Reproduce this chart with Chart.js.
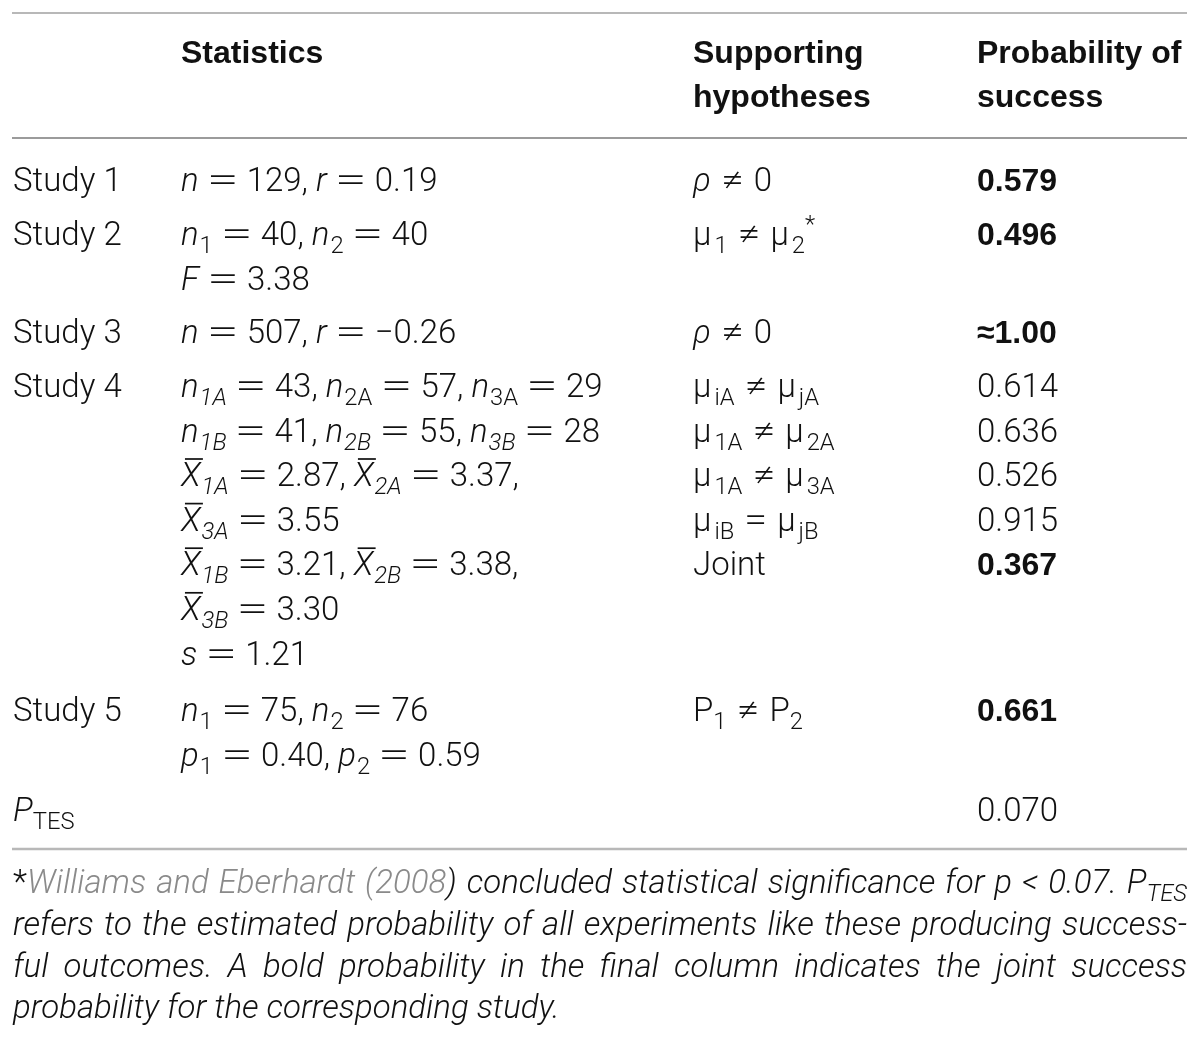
<!DOCTYPE html>
<html>
<head>
<meta charset="utf-8">
<script src="https://cdn.jsdelivr.net/npm/chart.js@4.4.1/dist/chart.umd.min.js"></script>
<style>
  html, body { margin: 0; padding: 0; background: #fff; }
  #table-chart { display: block; }
</style>
</head>
<body>
<canvas id="table-chart" width="1200" height="1040"></canvas>
<script>
// Isi tabel. Markup kecil: /.../ miring, _{..} subskrip, ^{..} superskrip, ~{..} garis atas, %..% abu-abu
const headers = [["Statistics"], ["Supporting", "hypotheses"], ["Probability of", "success"]];

const studies = ["Study 1", "Study 2", "Study 3", "Study 4", "Study 5", "/P/_{TES}"];

const statistics = [
  ["/n/ = 129, /r/ = 0.19"],
  ["/n/_{1} = 40, /n/_{2} = 40", "/F/ = 3.38"],
  ["/n/ = 507, /r/ = \u22120.26"],
  [
    "/n/_{/1A/} = 43, /n/_{2A} = 57, /n/_{3A} = 29",
    "/n/_{/1B/} = 41, /n/_{/2B/} = 55, /n/_{/3B/} = 28",
    "~{/X/}_{/1A/} = 2.87, ~{/X/}_{/2A/} = 3.37,",
    "~{/X/}_{/3A/} = 3.55",
    "~{/X/}_{/1B/} = 3.21, ~{/X/}_{/2B/} = 3.38,",
    "~{/X/}_{/3B/} = 3.30",
    "/s/ = 1.21",
  ],
  ["/n/_{1} = 75, /n/_{2} = 76", "/p/_{1} = 0.40, /p/_{2} = 0.59"],
  [],
];

const hypotheses = [
  ["/\u03c1/ \u2260 0"],
  ["\u03bc_{1} \u2260 \u03bc_{2}^{*}"],
  ["/\u03c1/ \u2260 0"],
  ["\u03bc_{iA} \u2260 \u03bc_{jA}", "\u03bc_{1A} \u2260 \u03bc_{2A}", "\u03bc_{1A} \u2260 \u03bc_{3A}", "\u03bc_{iB} = \u03bc_{jB}", "Joint"],
  ["P_{1} \u2260 P_{2}"],
  [],
];

const probabilities = [
  ["0.579"],
  ["0.496"],
  ["\u22481.00"],
  ["0.614", "0.636", "0.526", "0.915", "0.367"],
  ["0.661"],
  ["0.070"],
];

const boldProbability = [
  [true],
  [true],
  [true],
  [false, false, false, false, true],
  [true],
  [false],
];

const footnote = [
  "/*/%Williams and Eberhardt (2008%) concluded statistical significance for p < 0.07. P_{TES}",
  "refers to the estimated probability of all experiments like these producing success-",
  "ful outcomes. A bold probability in the final column indicates the joint success",
  "probability for the corresponding study.",
];

// Tata letak (posisi dalam satuan skala, bukan data)
const FONT = "Roboto, 'Liberation Sans', sans-serif";
const BOLD_FONT = "'Liberation Sans', Arial, sans-serif";
const colX = [13, 181, 693, 977];
const headerX = [181, 693, 977];
const headerBase = [63, 107];
const rowBase = [191, 245, 343, 397, 721, 821];
const lineStep = 44.6;
const footBase = [893, 935, 977, 1018];
const rules = [
  { y: 13, color: "#b8b8b8", width: 2 },
  { y: 138, color: "#7a7a7a", width: 1.5 },
  { y: 849, color: "#b8b8b8", width: 2.5 },
];
const BODY = 33;
const statStyle = { size: BODY, eqScale: 1.75, subGap: 1 };
const hypoStyle = { size: BODY, eqScale: 1.25, muGap: 3, spaceAdd: 2 };

// Function untuk memecah markup menjadi potongan teks
function parseRich(src, italicBase) {
  const runs = [];
  const mode = [];
  let italic = !!italicBase;
  let gray = false;
  let buf = "";
  const flush = () => {
    if (buf) {
      runs.push({
        text: buf, italic, gray,
        sub: mode.includes("sub"), sup: mode.includes("sup"), over: mode.includes("over"),
      });
      buf = "";
    }
  };
  for (let i = 0; i < src.length; i++) {
    const c = src[i];
    if (c === "/") { flush(); italic = !italic; continue; }
    if (c === "%") { flush(); gray = !gray; continue; }
    if ((c === "_" || c === "^" || c === "~") && src[i + 1] === "{") {
      flush();
      mode.push(c === "_" ? "sub" : c === "^" ? "sup" : "over");
      i++;
      continue;
    }
    if (c === "}" && mode.length) { flush(); mode.pop(); continue; }
    buf += c;
  }
  flush();
  return runs;
}

function runFont(run, opt) {
  const size = opt.size;
  const fs = run.sub || run.sup ? size * 0.72 : size;
  if (opt.bold) return "bold " + (size - 1) + "px " + BOLD_FONT;
  return (run.italic ? "italic " : "") + "300 " + fs + "px " + FONT;
}

// Function untuk menggambar satu baris teks kaya
function drawRich(ctx, src, x, y, opt) {
  const size = opt.size;
  const eqScale = opt.eqScale || 1;
  const runs = parseRich(src, opt.italic);
  const pieces = [];
  let natural = 0;
  let gaps = 0;
  let prevSmall = false;
  let prevText = "";
  runs.forEach((run) => {
    ctx.font = runFont(run, opt);
    const small = run.sub || run.sup;
    let lead = 0;
    if (small && !prevSmall) {
      lead = opt.subGap || 0;
      if (prevText.endsWith("\u03bc")) lead += opt.muGap || 0;
    }
    prevSmall = small;
    prevText = run.text;
    run.text.split(/( )/).forEach((t) => {
      if (!t) return;
      const wide = !small && (t === "=" || t === "\u2260");
      let w = ctx.measureText(t).width * (wide ? eqScale : 1);
      if (t === " ") w += opt.spaceAdd || 0;
      pieces.push({ run, t, w, lead, wide });
      natural += w + lead;
      lead = 0;
      if (t === " ") gaps++;
    });
  });
  const extra = opt.justify && gaps ? (opt.justify - natural) / gaps : 0;
  let cx = x;
  pieces.forEach((p) => {
    const run = p.run;
    cx += p.lead;
    if (p.t === " ") { cx += p.w + extra; return; }
    ctx.font = runFont(run, opt);
    ctx.fillStyle = run.gray ? "#8a8a8a" : "#111";
    const dy = run.sub ? size * 0.24 : run.sup ? -size * 0.38 : 0;
    if (p.wide) {
      ctx.save();
      ctx.translate(cx, y + dy);
      ctx.scale(eqScale, 1);
      ctx.fillText(p.t, 0, 0);
      ctx.restore();
    } else {
      ctx.fillText(p.t, cx, y + dy);
    }
    if (run.over) {
      ctx.fillRect(cx + size * 0.12, y - size * 0.85, p.w - size * 0.05, 1.7);
    }
    cx += p.w;
  });
}

const tablePlugin = {
  id: "tableText",
  afterDraw(chart) {
    const ctx = chart.ctx;
    const sx = chart.scales.x;
    const sy = chart.scales.y;
    const px = (v) => sx.getPixelForValue(v);
    const py = (v) => sy.getPixelForValue(v);
    ctx.save();
    ctx.textBaseline = "alphabetic";
    ctx.textAlign = "left";

    rules.forEach((r) => {
      ctx.strokeStyle = r.color;
      ctx.lineWidth = r.width;
      ctx.beginPath();
      ctx.moveTo(px(12), py(r.y));
      ctx.lineTo(px(1187), py(r.y));
      ctx.stroke();
    });

    headers.forEach((lines, c) => {
      lines.forEach((t, k) => {
        drawRich(ctx, t, px(headerX[c]), py(headerBase[k]), { size: 33, bold: true });
      });
    });

    studies.forEach((name, r) => {
      const base = rowBase[r];
      drawRich(ctx, name, px(colX[0]), py(base), { size: BODY });
      statistics[r].forEach((t, k) => {
        drawRich(ctx, t, px(colX[1]), py(base + k * lineStep), statStyle);
      });
      hypotheses[r].forEach((t, k) => {
        drawRich(ctx, t, px(colX[2]), py(base + k * lineStep), hypoStyle);
      });
      probabilities[r].forEach((t, k) => {
        const bold = boldProbability[r][k];
        drawRich(ctx, t, px(colX[3]), py(base + k * lineStep), { size: BODY, bold });
      });
    });

    footnote.forEach((t, k) => {
      const last = k === footnote.length - 1;
      drawRich(ctx, t, px(13), py(footBase[k]), {
        size: 33, italic: true, justify: last ? 0 : px(1187) - px(13),
      });
    });
    ctx.restore();
  },
};

document.addEventListener("DOMContentLoaded", () => {
  const ctx = document.getElementById("table-chart").getContext("2d");
  new Chart(ctx, {
    type: "scatter",
    data: { datasets: [] },
    options: {
      responsive: false,
      animation: false,
      devicePixelRatio: 1,
      layout: { padding: 0 },
      events: [],
      scales: {
        x: { type: "linear", min: 0, max: 1200, display: false },
        y: { type: "linear", min: 0, max: 1040, reverse: true, display: false },
      },
      plugins: { legend: { display: false }, tooltip: { enabled: false } },
    },
    plugins: [tablePlugin],
  });
});
</script>
</body>
</html>
